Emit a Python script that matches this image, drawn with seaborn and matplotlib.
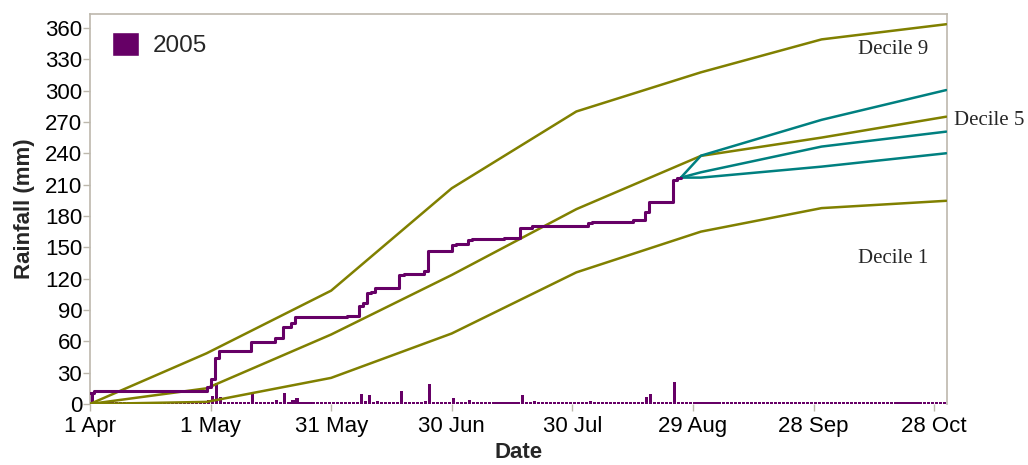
import numpy as np
import pandas as pd
import matplotlib
matplotlib.use("Agg")
import matplotlib.pyplot as plt
from matplotlib.patches import Patch
import seaborn as sns

# 2005 daily rainfall (days counted from 1 Apr), mm
rain_day = [0, 1, 29, 30, 31, 32, 40, 46, 48, 50, 51, 64, 67, 68, 69, 70, 71,
            77, 78, 83, 84, 90, 91, 94, 95, 103, 107, 110, 124, 125, 135, 138,
            139, 145, 146]
rain_mm = [10.8, 1.6, 3.5, 8.0, 20.0, 6.5, 9.2, 3.5, 10.5, 3.8, 5.8, 1.3, 9.5,
           3.0, 8.8, 1.7, 3.2, 12.5, 1.2, 2.9, 19.3, 5.5, 1.2, 3.5, 1.2, 1.2,
           9.0, 2.4, 2.9, 1.0, 2.0, 7.0, 10.0, 21.0, 2.2]
last_obs = "2005-08-26"

# decile curves of cumulative rainfall, month ends
decile_dates = ["2005-04-01", "2005-04-30", "2005-05-31", "2005-06-30",
                "2005-07-31", "2005-08-31", "2005-09-30", "2005-10-31"]
decile_1 = [0, 2, 25, 67.5, 126, 165, 187.5, 194.5]
decile_5 = [0, 15, 66.5, 123.5, 186.5, 237.5, 255, 275]
decile_9 = [0, 48.5, 108.5, 206.5, 280, 317.5, 349, 363.5]

# projections from the last observed day
proj_dates = ["2005-08-26", "2005-08-31", "2005-09-30", "2005-10-31"]
proj_high = [216.7, 237.7, 272, 300.5]
proj_mid = [216.7, 221.8, 246.4, 260.7]
proj_low = [216.7, 216.7, 227.2, 240]

tick_dates = ["2005-04-01", "2005-05-01", "2005-05-31", "2005-06-30",
              "2005-07-30", "2005-08-29", "2005-09-28", "2005-10-28"]
tick_labels = ["1 Apr", "1 May", "31 May", "30 Jun", "30 Jul", "29 Aug",
               "28 Sep", "28 Oct"]
y_ticks = list(range(0, 361, 30))

purple = "#660066"
olive = "#808000"
teal = "#008080"
grey = "#bdb8ad"

sns.set_theme(style="white")
plt.rcParams["font.family"] = ["Liberation Sans", "DejaVu Sans"]

start = pd.Timestamp("2005-04-01")
days = pd.date_range(start, "2005-10-31", freq="D")
daily = np.zeros(len(days))
daily[rain_day] = rain_mm
n_obs = (pd.Timestamp(last_obs) - start).days
cum = np.cumsum(daily[:n_obs])
cum_dates = list(days[:n_obs]) + [pd.Timestamp(last_obs)]
cum_vals = list(cum) + [cum[-1]]

fig = plt.figure(figsize=(10.28, 4.65), dpi=100)
ax = fig.add_axes([0.0875, 0.1312, 0.8334, 0.838])

# dry days still show as a thin stub on the baseline, like the original
ax.bar(days + pd.Timedelta(hours=12), np.maximum(daily, 1.8), width=0.78,
       color=purple, linewidth=0, zorder=2)

for vals in [decile_1, decile_5, decile_9]:
    sns.lineplot(x=pd.to_datetime(decile_dates), y=vals, color=olive,
                 linewidth=1.8, ax=ax, zorder=3)
for vals in [proj_high, proj_mid, proj_low]:
    sns.lineplot(x=pd.to_datetime(proj_dates), y=vals, color=teal,
                 linewidth=1.8, ax=ax, zorder=3)
sns.lineplot(x=cum_dates, y=cum_vals, drawstyle="steps-post", color=purple,
             linewidth=2.2, ax=ax, zorder=4)

serif = ["Liberation Serif", "DejaVu Serif"]
ax.text(pd.Timestamp("2005-10-09"), 339, "Decile 9", family=serif, fontsize=15,
        va="center", ha="left")
ax.text(pd.Timestamp("2005-11-02"), 271, "Decile 5", family=serif, fontsize=15,
        va="center", ha="left", clip_on=False)
ax.text(pd.Timestamp("2005-10-09"), 139, "Decile 1", family=serif, fontsize=15,
        va="center", ha="left")

ax.set_xlim(start, pd.Timestamp("2005-10-31 03:00"))
ax.set_ylim(0, 373)
ax.set_xticks(pd.to_datetime(tick_dates))
ax.set_xticklabels(tick_labels)
ax.set_yticks(y_ticks)
ax.tick_params(axis="both", direction="out", length=5, width=1, color=grey,
               labelsize=16, labelcolor="black", bottom=True, left=True)
ax.tick_params(axis="y", pad=0.5)
for side in ["left", "top", "right"]:
    ax.spines[side].set_color(grey)
    ax.spines[side].set_linewidth(1.2)
ax.spines["bottom"].set_visible(False)

ax.set_xlabel("Date", fontsize=16, fontweight="bold", labelpad=4)
ax.set_ylabel("Rainfall (mm)", fontsize=16, fontweight="bold", labelpad=7)

ax.legend(handles=[Patch(facecolor=purple, label="2005")], loc="upper left",
          bbox_to_anchor=(0.026, 0.954), frameon=False, fontsize=17.5,
          handlelength=1.11, handleheight=1.11, handletextpad=0.55,
          borderpad=0, borderaxespad=0)

fig.savefig("out.png", dpi=100)
